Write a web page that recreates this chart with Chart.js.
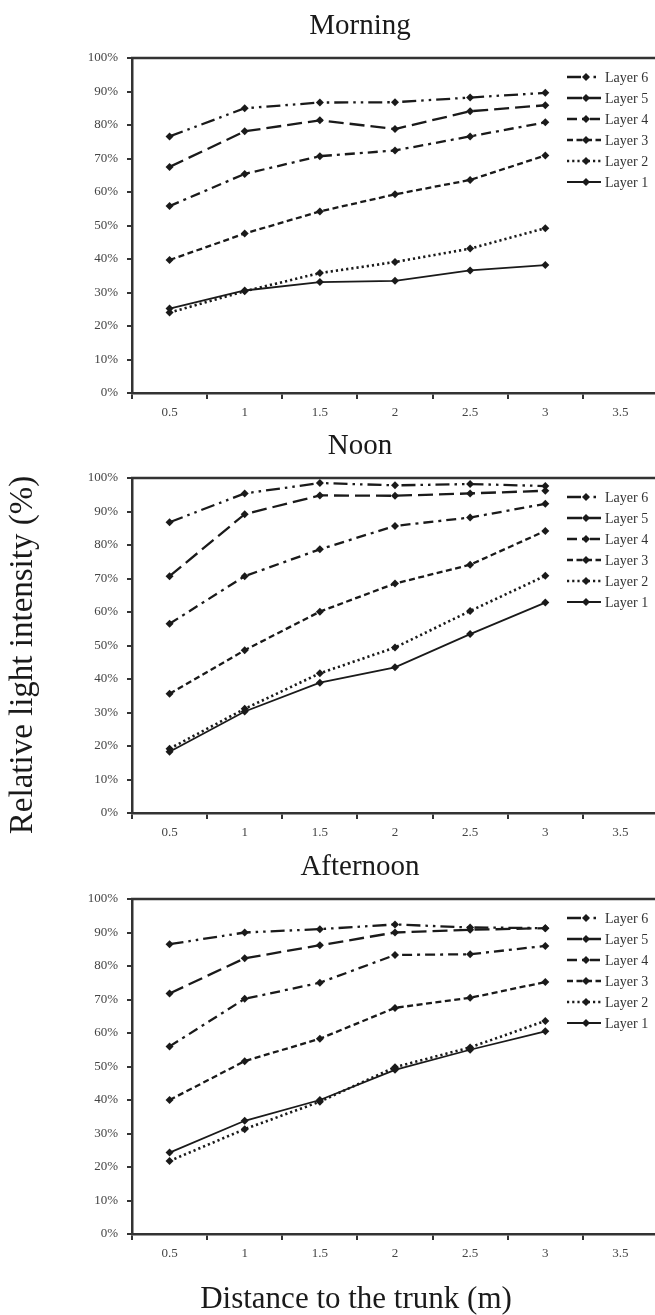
<!DOCTYPE html>
<html>
<head>
<meta charset="utf-8">
<title>Relative light intensity by layer</title>
<script src="https://cdn.jsdelivr.net/npm/chart.js@4.4.1/dist/chart.umd.min.js"></script>
<style>
  html, body { margin: 0; padding: 0; background: #fff; }
  body { width: 655px; height: 1315px; position: relative; overflow: hidden; }
  canvas { position: absolute; left: 0; display: block; }
</style>
</head>
<body>
<canvas id="morning" width="662" height="420" style="top:0"></canvas>
<canvas id="noon" width="662" height="421" style="top:420px"></canvas>
<canvas id="afternoon" width="662" height="474" style="top:841px"></canvas>
<script>
// distance to the trunk (m)
const distances = ["0.5", "1", "1.5", "2", "2.5", "3", "3.5"];
const layerNames = ["Layer 1", "Layer 2", "Layer 3", "Layer 4", "Layer 5", "Layer 6"];

// relative light intensity (%), one array per layer
const morningL1 = [25.2, 30.6, 33.1, 33.5, 36.6, 38.2];
const morningL2 = [24.0, 30.4, 35.8, 39.1, 43.1, 49.2];
const morningL3 = [39.7, 47.6, 54.2, 59.3, 63.6, 70.9];
const morningL4 = [55.8, 65.4, 70.7, 72.4, 76.6, 80.8];
const morningL5 = [67.5, 78.1, 81.4, 78.8, 84.1, 85.9];
const morningL6 = [76.6, 85.0, 86.7, 86.8, 88.2, 89.6];

const noonL1 = [18.3, 30.3, 38.9, 43.5, 53.4, 62.8];
const noonL2 = [19.2, 31.1, 41.7, 49.4, 60.3, 70.8];
const noonL3 = [35.6, 48.6, 60.1, 68.5, 74.1, 84.2];
const noonL4 = [56.5, 70.7, 78.7, 85.7, 88.2, 92.3];
const noonL5 = [70.7, 89.2, 94.8, 94.7, 95.4, 96.2];
const noonL6 = [86.8, 95.4, 98.5, 97.8, 98.2, 97.6];

const afternoonL1 = [24.3, 33.8, 40.0, 49.0, 55.0, 60.5];
const afternoonL2 = [21.8, 31.3, 39.5, 49.8, 55.7, 63.6];
const afternoonL3 = [40.0, 51.6, 58.3, 67.5, 70.5, 75.2];
const afternoonL4 = [56.0, 70.2, 75.0, 83.3, 83.5, 86.0];
const afternoonL5 = [71.8, 82.3, 86.2, 90.0, 90.8, 91.3];
const afternoonL6 = [86.5, 90.0, 91.0, 92.4, 91.5, 91.3];

const yTicks = [0, 10, 20, 30, 40, 50, 60, 70, 80, 90, 100];

const SERIF = "'Liberation Serif', 'Times New Roman', serif";
const INK = "#1a1a1a";

// line style per layer: solid, dotted, short dash, dash-dot, long dash, dash-dot-dot
const layerStyles = [
    { dash: [], width: 1.8 },
    { dash: [2.2, 3], width: 2.6 },
    { dash: [6, 3.5], width: 2.3 },
    { dash: [10, 5, 3, 5], width: 2.3 },
    { dash: [15, 6], width: 2.3 },
    { dash: [14, 5, 2.5, 5, 2.5, 5], width: 2.3 }
];

// panel heading, axis titles and the top frame line
const panelText = {
    id: "panelText",
    afterDraw(chart, args, opts) {
        const ctx = chart.ctx;
        const area = chart.chartArea;
        ctx.save();
        ctx.strokeStyle = "#333";
        ctx.lineWidth = 2.5;
        ctx.beginPath();
        ctx.moveTo(area.left - 1, area.top);
        ctx.lineTo(area.right, area.top);
        ctx.stroke();

        ctx.fillStyle = INK;
        ctx.textAlign = "center";
        ctx.textBaseline = "middle";
        ctx.font = "29px " + SERIF;
        ctx.fillText(opts.title, 360, 26);
        if (opts.xTitle) {
            ctx.font = "31px " + SERIF;
            ctx.fillText(opts.xTitle, 356, opts.xTitleY);
        }
        if (opts.yTitle) {
            ctx.font = "33px " + SERIF;
            ctx.translate(23, opts.yTitleY);
            ctx.rotate(-Math.PI / 2);
            ctx.fillText(opts.yTitle, 0, 0);
        }
        ctx.restore();
    }
};

// legend drawn inside the plot, top layer first
const layerLegend = {
    id: "layerLegend",
    afterDraw(chart) {
        const ctx = chart.ctx;
        const sets = chart.data.datasets.slice().reverse();
        ctx.save();
        ctx.font = "14px " + SERIF;
        ctx.textBaseline = "middle";
        ctx.textAlign = "left";
        sets.forEach((ds, i) => {
            const y = 77 + i * 21;
            ctx.strokeStyle = INK;
            ctx.lineWidth = ds.borderWidth;
            ctx.setLineDash(ds.borderDash);
            ctx.beginPath();
            ctx.moveTo(567, y);
            ctx.lineTo(601, y);
            ctx.stroke();
            ctx.setLineDash([]);
            ctx.fillStyle = INK;
            ctx.beginPath();
            ctx.moveTo(586, y - 4);
            ctx.lineTo(590, y);
            ctx.lineTo(586, y + 4);
            ctx.lineTo(582, y);
            ctx.closePath();
            ctx.fill();
            ctx.fillStyle = "#333";
            ctx.fillText(ds.label, 605, y + 1);
        });
        ctx.restore();
    }
};

function makePanel(id, series, text, bottomPad) {
    const datasets = series.map((values, i) => ({
        label: layerNames[i],
        data: values,
        borderColor: INK,
        backgroundColor: INK,
        borderWidth: layerStyles[i].width,
        borderDash: layerStyles[i].dash,
        pointStyle: "rectRot",
        pointRadius: 4,
        pointBorderWidth: 0,
        pointBackgroundColor: INK,
        tension: 0
    }));

    new Chart(document.getElementById(id), {
        type: "line",
        data: { labels: distances, datasets: datasets },
        options: {
            responsive: false,
            animation: false,
            events: [],
            layout: { padding: { top: 58, left: 0, right: 0, bottom: bottomPad } },
            plugins: {
                legend: { display: false },
                tooltip: { enabled: false },
                panelText: text
            },
            scales: {
                x: {
                    type: "category",
                    offset: true,
                    grid: {
                        offset: true,
                        drawOnChartArea: false,
                        drawTicks: true,
                        tickLength: 6,
                        color: "#333",
                        lineWidth: 2
                    },
                    border: { display: true, color: "#333", width: 2.5 },
                    ticks: {
                        color: "#444",
                        font: { family: SERIF, size: 13 },
                        padding: 6,
                        maxRotation: 0,
                        autoSkip: false
                    },
                    afterFit(scale) { scale.height = 27; }
                },
                y: {
                    min: 0,
                    max: 100,
                    afterBuildTicks(scale) {
                        scale.ticks = yTicks.map(v => ({ value: v }));
                    },
                    grid: {
                        drawOnChartArea: false,
                        drawTicks: true,
                        tickLength: 5,
                        color: "#333",
                        lineWidth: 2
                    },
                    border: { display: true, color: "#333", width: 2.5 },
                    ticks: {
                        color: "#444",
                        font: { family: SERIF, size: 13 },
                        padding: 9,
                        callback: v => v + "%"
                    },
                    afterFit(scale) { scale.width = 132; }
                }
            }
        },
        plugins: [panelText, layerLegend]
    });
}

makePanel("morning",
    [morningL1, morningL2, morningL3, morningL4, morningL5, morningL6],
    { title: "Morning" }, 0);

makePanel("noon",
    [noonL1, noonL2, noonL3, noonL4, noonL5, noonL6],
    { title: "Noon", yTitle: "Relative light intensity (%)", yTitleY: 235 }, 1);

makePanel("afternoon",
    [afternoonL1, afternoonL2, afternoonL3, afternoonL4, afternoonL5, afternoonL6],
    { title: "Afternoon", xTitle: "Distance to the trunk (m)", xTitleY: 459 }, 54);
</script>
</body>
</html>
